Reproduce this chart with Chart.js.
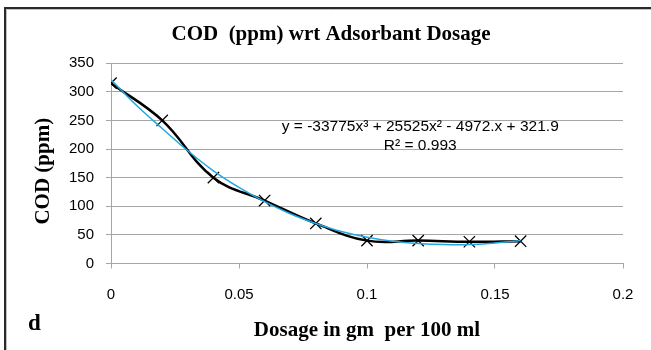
<!DOCTYPE html>
<html><head><meta charset="utf-8">
<script src="https://cdn.jsdelivr.net/npm/chart.js@4"></script>
<style>html,body{margin:0;padding:0;background:#fff}#wrap{width:651px;height:350px;position:relative}</style>
</head><body><div id="wrap"><canvas id="c" width="651" height="350"></canvas></div>
<script>
const chartTitle = 'COD  (ppm) wrt Adsorbant Dosage';
const xAxisTitle = 'Dosage in gm  per 100 ml';
const yAxisTitle = 'COD (ppm)';
const panelLetter = 'd';
const dosage = [0, 0.02, 0.04, 0.06, 0.08, 0.10, 0.12, 0.14, 0.16];
const cod = [315, 250, 150, 110, 70, 40, 40, 38, 39];
const fitDosage = [0, 0.01, 0.02, 0.03, 0.04, 0.05, 0.06, 0.07, 0.08, 0.09, 0.10, 0.11, 0.12, 0.13, 0.14, 0.15, 0.16];
const fitCod = [321, 276, 236, 197, 162, 133, 108, 87, 70, 56, 46, 39, 35, 33, 33, 36, 40];
const equationLines = ['y = -33775x³ + 25525x² - 4972.x + 321.9', 'R² = 0.993'];
const xTickLabels = ['0', '0.05', '0.1', '0.15', '0.2'];
const yTickLabels = ['0', '50', '100', '150', '200', '250', '300', '350'];

const eqAnchorX = 0.1208, eqAnchorY = 239;
const serif = '"Liberation Serif", "Times New Roman", serif';
const sans = '"Liberation Sans", Arial, sans-serif';
const gridCol = '#a6a6a6';

const decor = {
  id: 'decor',
  beforeDraw(chart) {
    const ctx = chart.ctx;
    ctx.save();
    ctx.fillStyle = '#fff';
    ctx.fillRect(0, 0, chart.width, chart.height);
    ctx.strokeStyle = '#2a2a2a';
    ctx.lineWidth = 2;
    ctx.beginPath();
    ctx.moveTo(5, chart.height); ctx.lineTo(5, 8); ctx.lineTo(chart.width, 8);
    ctx.stroke();
    ctx.strokeStyle = '#c0c0c0';
    ctx.lineWidth = 1;
    ctx.beginPath();
    ctx.moveTo(6.5, chart.height); ctx.lineTo(6.5, 9.5); ctx.lineTo(chart.width, 9.5);
    ctx.stroke();
    ctx.restore();
  },
  afterDraw(chart) {
    const ctx = chart.ctx;
    const xs = chart.scales.x, ys = chart.scales.y;
    ctx.save();
    ctx.fillStyle = '#000';
    ctx.font = '15.5px ' + sans;
    ctx.textAlign = 'center';
    ctx.textBaseline = 'middle';
    const cx = xs.getPixelForValue(eqAnchorX);
    const cy = ys.getPixelForValue(eqAnchorY);
    equationLines.forEach((t, i) => ctx.fillText(t, cx, cy + i * 18.5));
    ctx.font = 'bold 23px ' + serif;
    ctx.textAlign = 'left';
    ctx.textBaseline = 'alphabetic';
    ctx.fillText(panelLetter, 28, 330);
    ctx.restore();
  }
};

new Chart(document.getElementById('c'), {
  type: 'scatter',
  data: {
    datasets: [
      {
        label: 'Poly. fit',
        data: fitDosage.map((x, i) => ({x, y: fitCod[i]})),
        showLine: true,
        borderColor: '#22a8e0',
        borderWidth: 1.5,
        pointRadius: 0,
        tension: 0.4,
        order: 0
      },
      {
        label: 'COD',
        data: dosage.map((x, i) => ({x, y: cod[i]})),
        showLine: true,
        borderColor: '#000',
        borderWidth: 2.5,
        tension: 0.4,
        pointStyle: 'crossRot',
        pointRadius: 8,
        pointBorderColor: '#000',
        pointBorderWidth: 1.3,
        order: 1
      }
    ]
  },
  options: {
    responsive: false,
    devicePixelRatio: 1,
    animation: false,
    layout: { padding: { left: 39, right: 28, top: 10, bottom: 3 } },
    plugins: {
      legend: { display: false },
      tooltip: { enabled: false },
      title: {
        display: true,
        text: chartTitle,
        color: '#000',
        font: { family: serif, size: 21, weight: 'bold' },
        padding: { top: 12, bottom: 16 }
      }
    },
    scales: {
      x: {
        type: 'linear', min: 0, max: 0.2,
        afterFit: s => { s.height = 83.5; },
        ticks: {
          stepSize: 0.05,
          callback: (v, i) => xTickLabels[i],
          color: '#000',
          font: { family: sans, size: 15 },
          padding: 17,
          maxRotation: 0
        },
        grid: { drawOnChartArea: false, drawTicks: true, tickLength: 5, color: gridCol },
        border: { color: gridCol },
        title: {
          display: true, text: xAxisTitle, color: '#000',
          font: { family: serif, size: 21, weight: 'bold' },
          padding: { top: 4, bottom: 4 }
        }
      },
      y: {
        min: 0, max: 350,
        afterFit: s => { s.width = 72; },
        ticks: {
          stepSize: 50,
          callback: (v, i) => yTickLabels[i],
          color: '#000',
          font: { family: sans, size: 15 },
          padding: 12
        },
        grid: { color: gridCol, tickLength: 5 },
        border: { color: gridCol },
        title: {
          display: true, text: yAxisTitle + '   ', color: '#000',
          font: { family: serif, size: 21, weight: 'bold' },
          padding: { top: -7.6, bottom: 0 }
        }
      }
    }
  },
  plugins: [decor]
});
</script>
</body></html>
